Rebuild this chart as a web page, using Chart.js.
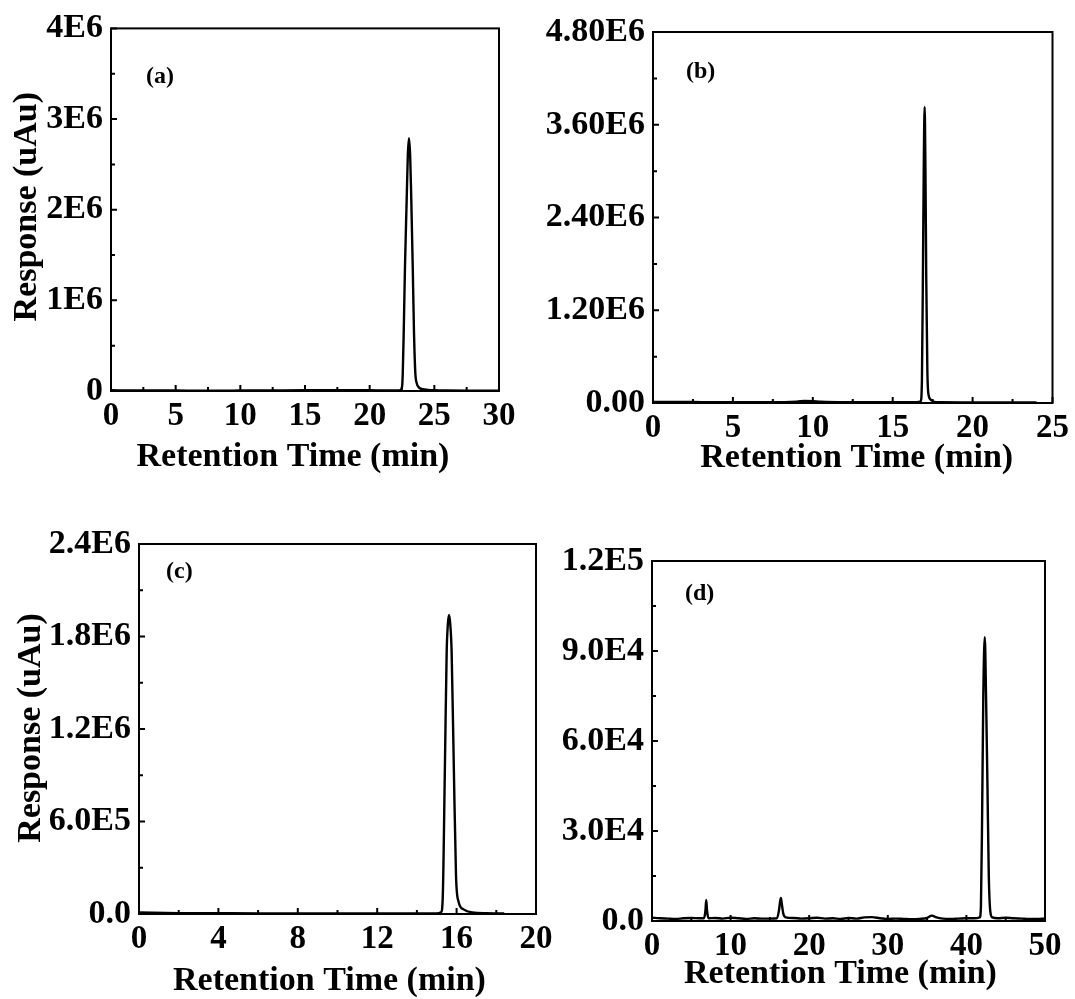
<!DOCTYPE html>
<html>
<head>
<meta charset="utf-8">
<script src="https://cdn.jsdelivr.net/npm/chart.js@4.4.1/dist/chart.umd.min.js"></script>
<style>
  html, body { margin: 0; padding: 0; background: #fff; }
  #wrap { position: relative; width: 1075px; height: 999px; overflow: hidden; }
  canvas { position: absolute; }
</style>
</head>
<body>
<div id="wrap">
  <canvas id="chartA" width="535" height="490" style="left:0px;top:0px"></canvas>
  <canvas id="chartB" width="540" height="490" style="left:535px;top:0px"></canvas>
  <canvas id="chartC" width="570" height="499" style="left:0px;top:500px"></canvas>
  <canvas id="chartD" width="535" height="499" style="left:540px;top:500px"></canvas>
</div>
<script>
// chromatogram (a)
const timeA = [0, 2, 5, 8, 10, 12, 15, 18, 20, 21.5, 22.3, 22.5, 22.56, 22.63, 22.73, 22.86, 22.95, 23.04, 23.13, 23.22, 23.33, 23.43, 23.53, 23.65, 23.8, 24.1, 24.5, 25, 26, 28, 30];
const respA = [8e3, 6e3, 5e3, 4e3, 5e3, 6e3, 8e3, 9e3, 8e3, 6e3, 6e3, 4.4e4, 2.0e5, 6.3e5, 1.37e6, 2.1e6, 2.6e6, 2.79e6, 2.6e6, 2.1e6, 1.37e6, 6.3e5, 2.0e5, 8e4, 4e4, 2e4, 1.2e4, 8e3, 5e3, 3e3, 2e3];
const xTicksA = [0, 5, 10, 15, 20, 25, 30];
const yTicksA = [0, 1e6, 2e6, 3e6, 4e6];
const yLabelsA = ["0", "1E6", "2E6", "3E6", "4E6"];

// chromatogram (b)
const timeB = [0, 2.5, 5, 7.5, 9, 9.5, 10, 10.5, 12, 15, 16.5, 16.75, 16.83, 16.9, 16.95, 17.0, 17.05, 17.1, 17.17, 17.25, 17.4, 17.6, 18, 20, 22, 24];
const respB = [1.5e4, 1.2e4, 1e4, 1e4, 1.8e4, 2.6e4, 2.4e4, 1.6e4, 1e4, 1e4, 1e4, 2e4, 3e5, 1.9e6, 3.2e6, 3.83e6, 3.0e6, 1.6e6, 4e5, 1e5, 4e4, 1.5e4, 1e4, 8e3, 8e3, 6e3];
const xTicksB = [0, 5, 10, 15, 20, 25];
const yTicksB = [0, 1.2e6, 2.4e6, 3.6e6, 4.8e6];
const yLabelsB = ["0.00", "1.20E6", "2.40E6", "3.60E6", "4.80E6"];

// chromatogram (c)
const timeC = [0, 2, 4, 6, 8, 10, 12, 14, 15, 15.22, 15.3, 15.41, 15.5, 15.56, 15.62, 15.68, 15.75, 15.86, 15.97, 16.1, 16.35, 16.8, 17.5, 18.4];
const respC = [1e4, 6e3, 5e3, 4e3, 4e3, 4e3, 4e3, 4e3, 4e3, 1.2e4, 1e5, 9.5e5, 1.7e6, 1.88e6, 1.94e6, 1.88e6, 1.7e6, 9.5e5, 2.5e5, 8e4, 3e4, 1e4, 5e3, 3e3];
const xTicksC = [0, 4, 8, 12, 16, 20];
const yTicksC = [0, 6e5, 1.2e6, 1.8e6, 2.4e6];
const yLabelsC = ["0.0", "6.0E5", "1.2E6", "1.8E6", "2.4E6"];

// chromatogram (d)
const timeD = [0, 1, 2, 3, 4, 5, 6, 6.6, 6.8, 6.9, 7.0, 7.2, 8, 9, 10, 11, 12, 13, 14, 15,
  15.9, 16.15, 16.3, 16.4, 16.5, 16.7, 17, 18, 19, 20, 21, 22, 23, 24, 25, 26, 27, 28, 29, 30,
  31, 32, 33, 34, 35, 35.6, 36.2, 37, 38, 39, 40, 41, 41.7, 41.85, 42.0, 42.15, 42.34, 42.5, 42.68, 42.85,
  43.05, 43.3, 44, 45, 46, 47, 48, 49, 50];
const respD = [1100, 900, 800, 700, 900, 1000, 900, 900, 3500, 7000, 3500, 900, 1000, 800, 1100, 900, 700, 900, 800, 800,
  900, 3500, 6500, 7700, 6000, 2500, 1200, 1000, 800, 900, 1100, 800, 900, 700, 1000, 800, 1200, 1300, 900, 700,
  800, 700, 600, 700, 1000, 1800, 1200, 800, 700, 800, 900, 900, 1200, 5000, 35000, 75000, 94600, 75000, 45000, 15000,
  3000, 1200, 900, 1100, 900, 800, 700, 700, 800];
const xTicksD = [0, 10, 20, 30, 40, 50];
const yTicksD = [0, 3e4, 6e4, 9e4, 1.2e5];
const yLabelsD = ["0.0", "3.0E4", "6.0E4", "9.0E4", "1.2E5"];

const serif = "'Liberation Serif', 'Times New Roman', serif";

// box around the plot area plus inward major/minor ticks
const framePlugin = {
  id: "frame",
  afterDraw(chart, args, opts) {
    const { ctx, chartArea: a, scales } = chart;
    const x = scales.x, y = scales.y;
    ctx.save();
    ctx.strokeStyle = "#000";
    ctx.lineWidth = 2;
    ctx.strokeRect(a.left, a.top, a.right - a.left, a.bottom - a.top);
    ctx.beginPath();
    const xt = opts.xTicks, yt = opts.yTicks;
    xt.forEach((v, i) => {
      const px = x.getPixelForValue(v);
      ctx.moveTo(px, a.bottom); ctx.lineTo(px, a.bottom - 6);
      if (i < xt.length - 1) {
        const pm = x.getPixelForValue((v + xt[i + 1]) / 2);
        ctx.moveTo(pm, a.bottom); ctx.lineTo(pm, a.bottom - 4);
      }
    });
    yt.forEach((v, i) => {
      const py = y.getPixelForValue(v);
      ctx.moveTo(a.left, py); ctx.lineTo(a.left + 6, py);
      if (i < yt.length - 1) {
        const pm = y.getPixelForValue((v + yt[i + 1]) / 2);
        ctx.moveTo(a.left, pm); ctx.lineTo(a.left + 4, pm);
      }
    });
    ctx.stroke();
    ctx.restore();
  }
};

// axis titles and the panel letter
const textPlugin = {
  id: "panelText",
  afterDraw(chart, args, opts) {
    const { ctx, chartArea: a } = chart;
    ctx.save();
    ctx.fillStyle = "#000";
    ctx.font = "bold 34px " + serif;
    ctx.textAlign = "center";
    ctx.textBaseline = "alphabetic";
    ctx.fillText("Retention Time (min)", (a.left + a.right) / 2 + opts.xTitleDx, opts.xTitleY);
    if (opts.yTitle) {
      ctx.save();
      ctx.translate(opts.yTitleX, (a.top + a.bottom) / 2 + opts.yTitleDy);
      ctx.rotate(-Math.PI / 2);
      ctx.textBaseline = "middle";
      ctx.fillText(opts.yTitle, 0, 0);
      ctx.restore();
    }
    ctx.font = "bold 24px " + serif;
    ctx.textAlign = "left";
    ctx.textBaseline = "middle";
    ctx.fillText(opts.label, a.left + opts.labelDx, a.top + opts.labelDy);
    ctx.restore();
  }
};

function makeChart(id, p) {
  const points = p.time.map((t, i) => ({ x: t, y: p.resp[i] }));
  return new Chart(document.getElementById(id), {
    type: "line",
    data: {
      datasets: [{
        data: points,
        borderColor: "#000",
        borderWidth: 2.4,
        pointRadius: 0,
        cubicInterpolationMode: "monotone",
        fill: false
      }]
    },
    options: {
      responsive: false,
      animation: false,
      events: [],
      layout: { padding: { top: p.padTop, right: p.padRight, left: 0, bottom: 0 } },
      plugins: {
        legend: { display: false },
        tooltip: { enabled: false },
        frame: { xTicks: p.xTicks, yTicks: p.yTicks },
        panelText: p.text
      },
      scales: {
        x: {
          type: "linear",
          min: p.xTicks[0],
          max: p.xTicks[p.xTicks.length - 1],
          grid: { display: false, drawTicks: false },
          border: { display: false },
          afterBuildTicks: s => { s.ticks = p.xTicks.map(v => ({ value: v })); },
          afterFit: s => { s.height = p.xAxisH; },
          ticks: {
            color: "#000",
            padding: 6,
            autoSkip: false,
            maxRotation: 0,
            font: { family: serif, size: 33, weight: "bold" },
            callback: v => String(v)
          }
        },
        y: {
          type: "linear",
          min: p.yTicks[0],
          max: p.yTicks[p.yTicks.length - 1],
          grid: { display: false, drawTicks: false },
          border: { display: false },
          afterBuildTicks: s => { s.ticks = p.yTicks.map(v => ({ value: v })); },
          afterFit: s => { s.width = p.yAxisW; },
          ticks: {
            color: "#000",
            padding: 8,
            autoSkip: false,
            font: { family: serif, size: 34, weight: "bold" },
            callback: (v, i) => p.yLabels[i]
          }
        }
      }
    },
    plugins: [framePlugin, textPlugin]
  });
}

makeChart("chartA", {
  time: timeA, resp: respA, xTicks: xTicksA, yTicks: yTicksA, yLabels: yLabelsA,
  padTop: 27, padRight: 36, yAxisW: 111, xAxisH: 99,
  text: { label: "(a)", labelDx: 35, labelDy: 48, xTitleDx: -12, xTitleY: 466,
          yTitle: "Response (uAu)", yTitleX: 27, yTitleDy: -3 }
});

makeChart("chartB", {
  time: timeB, resp: respB, xTicks: xTicksB, yTicks: yTicksB, yLabels: yLabelsB,
  padTop: 32, padRight: 22, yAxisW: 118, xAxisH: 87,
  text: { label: "(b)", labelDx: 33, labelDy: 40, xTitleDx: 4, xTitleY: 467, yTitle: null }
});

makeChart("chartC", {
  time: timeC, resp: respC, xTicks: xTicksC, yTicks: yTicksC, yLabels: yLabelsC,
  padTop: 44, padRight: 34, yAxisW: 139, xAxisH: 85,
  text: { label: "(c)", labelDx: 27, labelDy: 28, xTitleDx: -8, xTitleY: 490,
          yTitle: "Response (uAu)", yTitleX: 31, yTitleDy: -1 }
});

makeChart("chartD", {
  time: timeD, resp: respD, xTicks: xTicksD, yTicks: yTicksD, yLabels: yLabelsD,
  padTop: 61, padRight: 30, yAxisW: 112, xAxisH: 78,
  text: { label: "(d)", labelDx: 33, labelDy: 33, xTitleDx: -8, xTitleY: 483, yTitle: null }
});
</script>
</body>
</html>
